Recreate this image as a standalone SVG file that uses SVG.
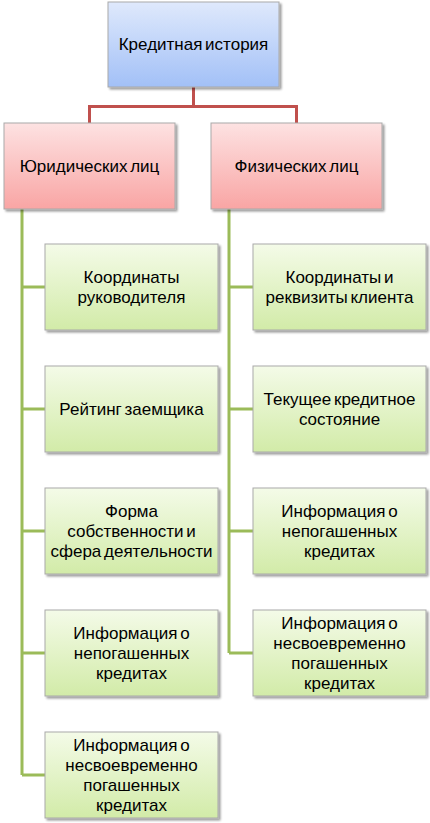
<svg xmlns="http://www.w3.org/2000/svg" width="430" height="823" viewBox="0 0 430 823">
<defs>
<linearGradient id="gBlue" x1="0" y1="0" x2="0" y2="1">
<stop offset="0" stop-color="#dfe9fc"/><stop offset="1" stop-color="#a2c0f7"/>
</linearGradient>
<linearGradient id="gRed" x1="0" y1="0" x2="0" y2="1">
<stop offset="0" stop-color="#fde2e2"/><stop offset="1" stop-color="#f9a5a4"/>
</linearGradient>
<linearGradient id="gGreen" x1="0" y1="0" x2="0" y2="1">
<stop offset="0" stop-color="#f4fbe8"/><stop offset="1" stop-color="#d2eba8"/>
</linearGradient>
<filter id="sh" x="-10%" y="-10%" width="120%" height="120%">
<feGaussianBlur in="SourceAlpha" stdDeviation="1.2"/>
<feOffset dx="1.5" dy="2" result="b"/>
<feComponentTransfer><feFuncA type="linear" slope="0.4"/></feComponentTransfer>
<feMerge><feMergeNode/><feMergeNode in="SourceGraphic"/></feMerge>
</filter>
</defs>
<style>
.box{stroke:#a9a9a9;stroke-width:1;filter:url(#sh)}
.b{fill:url(#gBlue)}
.r{fill:url(#gRed)}
.g{fill:url(#gGreen)}
text{font-family:"Liberation Sans",Arial,sans-serif;font-size:17px;word-spacing:-2px;fill:#000;text-anchor:middle}
.cr{fill:none;stroke:#c0504d;stroke-width:3}
.cg{fill:none;stroke:#9bbb59;stroke-width:3}
</style>
<g id="connectors">
<path class="cr" d="M193.5,87 V106.5 H89.5 V123 M193.5,106.5 H296.5 V123"/>
<path class="cg" d="M22,209 V775 M22,287 H45 M22,409 H45 M22,531 H45 M22,653 H45 M22,775 H45"/>
<path class="cg" d="M229,209 V653 M229,287 H253 M229,409 H253 M229,531 H253 M229,653 H253"/>
</g>
<g id="root"><rect class="box b" x="108" y="2" width="171" height="85"/><text x="193.5" y="50">Кредитная история</text></g>
<g id="legal"><rect class="box r" x="4" y="123" width="171" height="86"/><text x="89.5" y="172">Юридических лиц</text></g>
<g id="physical"><rect class="box r" x="211" y="123" width="171" height="86"/><text x="296.5" y="172">Физических лиц</text></g>
<g id="l1"><rect class="box g" x="45" y="244" width="173" height="86"/><text x="131.5" y="283">Координаты</text><text x="131.5" y="303">руководителя</text></g>
<g id="l2"><rect class="box g" x="45" y="366" width="173" height="86"/><text x="131.5" y="415">Рейтинг заемщика</text></g>
<g id="l3"><rect class="box g" x="45" y="488" width="173" height="86"/><text x="131.5" y="517">Форма</text><text x="131.5" y="537">собственности и</text><text x="131.5" y="557">сфера деятельности</text></g>
<g id="l4"><rect class="box g" x="45" y="610" width="173" height="86"/><text x="131.5" y="639">Информация о</text><text x="131.5" y="659">непогашенных</text><text x="131.5" y="679">кредитах</text></g>
<g id="l5"><rect class="box g" x="45" y="732" width="173" height="86"/><text x="131.5" y="751">Информация о</text><text x="131.5" y="771">несвоевременно</text><text x="131.5" y="791">погашенных</text><text x="131.5" y="811">кредитах</text></g>
<g id="p1"><rect class="box g" x="253" y="244" width="173" height="86"/><text x="339.5" y="283">Координаты и</text><text x="339.5" y="303">реквизиты клиента</text></g>
<g id="p2"><rect class="box g" x="253" y="366" width="173" height="86"/><text x="339.5" y="405">Текущее кредитное</text><text x="339.5" y="425">состояние</text></g>
<g id="p3"><rect class="box g" x="253" y="488" width="173" height="86"/><text x="339.5" y="517">Информация о</text><text x="339.5" y="537">непогашенных</text><text x="339.5" y="557">кредитах</text></g>
<g id="p4"><rect class="box g" x="253" y="610" width="173" height="86"/><text x="339.5" y="629">Информация о</text><text x="339.5" y="649">несвоевременно</text><text x="339.5" y="669">погашенных</text><text x="339.5" y="689">кредитах</text></g>
</svg>
